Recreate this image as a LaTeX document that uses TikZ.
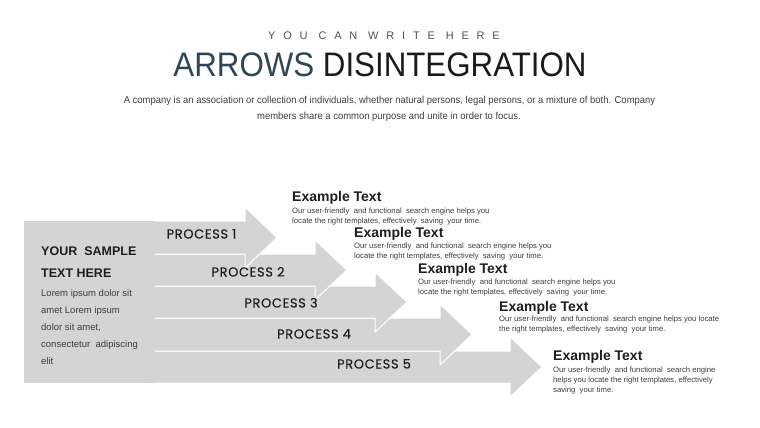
\documentclass[tikz,border=0pt]{standalone}
\usepackage{fontspec}
\setmainfont{Liberation Sans}
\newfontfamily\procfont[FakeBold=0.4,LetterSpace=5]{Poppins}
\newfontfamily\spacedfont[LetterSpace=71]{Liberation Sans}
\definecolor{arrowgray}{RGB}{212,212,212}
\definecolor{titleblue}{RGB}{47,70,84}
\definecolor{titleblack}{RGB}{26,26,26}
\definecolor{subgray}{RGB}{80,80,80}
\definecolor{bodygray}{RGB}{60,60,60}
\definecolor{darktext}{RGB}{30,30,30}
\newcommand\myprocarrow[4]{%
  \path[arrowshape] (150,#1) -- (#3,#1) -- (#3,{#1-14}) -- (#4,{(#1+#2)/2})
    -- (#3,{#2+14}) -- (#3,#2) -- (150,#2) -- cycle;}
\begin{document}
\begin{tikzpicture}[x=1pt,y=-1pt,
  arrowshape/.style={fill=arrowgray,draw=white,line width=1pt,line join=miter},
  txt/.style={inner sep=0pt,anchor=base west},
  ctxt/.style={inner sep=0pt,anchor=base},
  extitle/.style={txt,font=\fontsize{14}{16}\selectfont\bfseries,text=darktext},
  exdesc/.style={txt,font=\fontsize{7.7}{9}\selectfont,text=bodygray},
  proc/.style={ctxt,font=\fontsize{13}{15}\procfont,text=darktext},
  lorem/.style={txt,font=\fontsize{9.5}{11}\selectfont,text=bodygray},
  panelhead/.style={txt,font=\fontsize{12.5}{14}\selectfont\bfseries,text=darktext}]
\useasboundingbox (0,0) rectangle (760,428);

% header
\node[ctxt,font=\fontsize{11}{13}\spacedfont,text=subgray] (sub) at (384,40) {YOU CAN WRITE HERE};
\node[ctxt,font=\fontsize{34}{38}\selectfont] (title) at (380,77)
  {\scalebox{0.92}[1]{\textcolor{titleblue}{ARROWS} \textcolor{titleblack}{DISINTEGRATION}}};
\node[ctxt,font=\fontsize{10}{12}\selectfont,text=bodygray] (par1) at (389.5,103.5)
  {\scalebox{0.945}[1]{A company is an association or collection of individuals, whether natural persons, legal persons, or a mixture of both. Company}};
\node[ctxt,font=\fontsize{10}{12}\selectfont,text=bodygray] (par2) at (389,119.5)
  {\scalebox{0.945}[1]{members share a common purpose and unite in order to focus.}};

% arrows (bottom first)
\myprocarrow{351}{383}{510}{542}
\myprocarrow{318}{351}{440}{472}
\myprocarrow{286}{318}{375}{407}
\myprocarrow{254}{286}{315}{347}
\myprocarrow{221}{254}{245}{277}
\fill[arrowgray] (24,221) rectangle (155,383);

% process labels
\node[proc] (p1) at (201.5,238.5) {PROCESS 1};
\node[proc] (p2) at (248,276.5) {PROCESS 2};
\node[proc] (p3) at (281,307.5) {PROCESS 3};
\node[proc] (p4) at (314,338.5) {PROCESS 4};
\node[proc] (p5) at (374,368.5) {PROCESS 5};

% panel text
\node[panelhead] (ph1) at (41,255) {YOUR\ \ SAMPLE};
\node[panelhead] (ph2) at (41,277) {TEXT HERE};
\node[lorem] (l1) at (41,296) {Lorem ipsum dolor sit};
\node[lorem] (l2) at (41,313) {amet Lorem ipsum};
\node[lorem] (l3) at (41,330) {dolor sit amet,};
\node[lorem] (l4) at (41,347) {consectetur\ \ adipiscing};
\node[lorem] (l5) at (41,364) {elit};

% example texts
\node[extitle] (e1) at (292,201) {Example Text};
\node[exdesc] (e1a) at (292,213) {Our user-friendly\ \ and functional\ \ search engine helps you};
\node[exdesc] (e1b) at (292,223) {locate the right templates, effectively\ \ saving\ \ your time.};

\node[extitle] (e2) at (354,237) {Example Text};
\node[exdesc] (e2a) at (354,248.5) {Our user-friendly\ \ and functional\ \ search engine helps you};
\node[exdesc] (e2b) at (354,258) {locate the right templates, effectively\ \ saving\ \ your time.};

\node[extitle] (e3) at (418,273) {Example Text};
\node[exdesc] (e3a) at (418,284.5) {Our user-friendly\ \ and functional\ \ search engine helps you};
\node[exdesc] (e3b) at (418,294.5) {locate the right templates, effectively\ \ saving\ \ your time.};

\node[extitle] (e4) at (499,311) {Example Text};
\node[exdesc] (e4a) at (499,321) {Our user-friendly\ \ and functional\ \ search engine helps you locate};
\node[exdesc] (e4b) at (499,331) {the right templates, effectively\ \ saving\ \ your time.};

\node[extitle] (e5) at (553,360) {Example Text};
\node[exdesc] (e5a) at (553,372) {Our user-friendly\ \ and functional\ \ search engine};
\node[exdesc] (e5b) at (553,382) {helps you locate the right templates, effectively};
\node[exdesc] (e5c) at (553,392) {saving\ \ your time.};
\end{tikzpicture}
\end{document}
